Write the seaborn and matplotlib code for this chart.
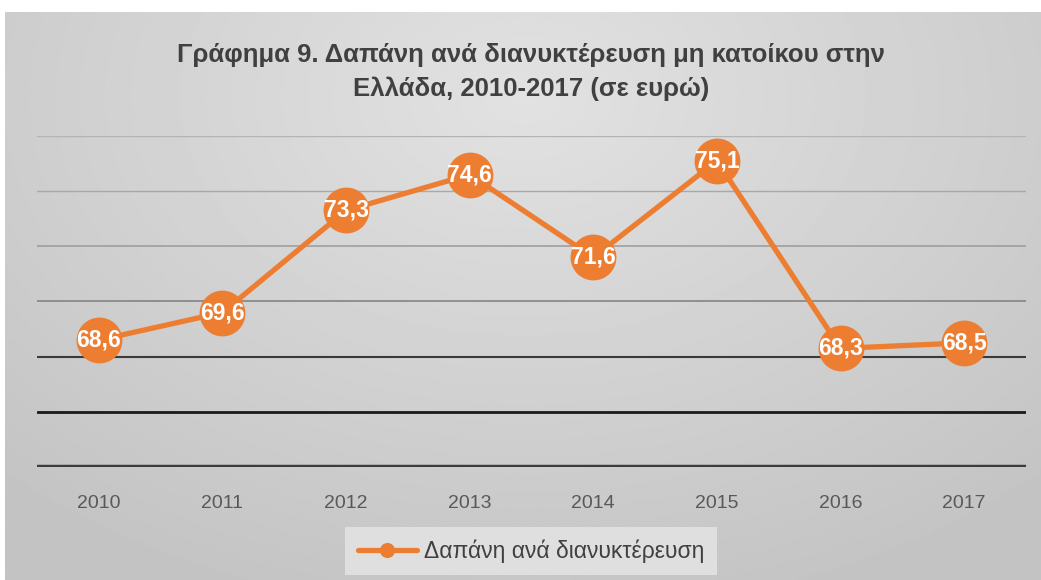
import numpy as np
import matplotlib
matplotlib.use("Agg")
import matplotlib.pyplot as plt
import seaborn as sns

# data
years = [2010, 2011, 2012, 2013, 2014, 2015, 2016, 2017]
spend = [68.6, 69.6, 73.3, 74.6, 71.6, 75.1, 68.3, 68.5]
value_labels = ["68,6", "69,6", "73,3", "74,6", "71,6", "75,1", "68,3", "68,5"]
grid_levels = [64, 66, 68, 70, 72, 74, 76]

title = "Γράφημα 9. Δαπάνη ανά διανυκτέρευση μη κατοίκου στην\nΕλλάδα, 2010-2017 (σε ευρώ)"
series_name = "Δαπάνη ανά διανυκτέρευση"

sns.set_theme(style="white")
plt.rcParams["font.family"] = ["Liberation Sans", "DejaVu Sans"]

orange = "#ED7D31"
fig = plt.figure(figsize=(10.41, 5.80), dpi=100, facecolor="white")

# grey radial gradient background of the chart area
bg = fig.add_axes([5 / 1041, 0, 1 - 5 / 1041, 1 - 12 / 580])
yy, xx = np.mgrid[0:1:300j, 0:1:600j]
r = np.sqrt(((xx - 0.5) / 0.75) ** 2 + ((yy - 0.15) / 0.95) ** 2)
shade = 0.885 - 0.12 * np.clip(r, 0, 1)
bg.imshow(shade, cmap="gray", vmin=0, vmax=1, aspect="auto", extent=[0, 1, 1, 0])
bg.set_axis_off()

ax = fig.add_axes([37 / 1041, 1 - 467 / 580, (1026 - 37) / 1041, (467 - 136) / 580])
ax.set_facecolor("none")

# gridlines, darker towards the bottom like the original
grid_colors = ["#3c3c3c", "#1a1a1a", "#3a3a3a", "#8a8a8a", "#9a9a9a", "#a8a8a8", "#b4b4b4"]
grid_widths = [3.2, 2.0, 1.5, 1.3, 1.1, 1.0, 1.0]
for lvl, c, w in zip(grid_levels, grid_colors, grid_widths):
    ax.axhline(lvl, color=c, lw=w, zorder=1)

sns.lineplot(x=years, y=spend, ax=ax, color=orange, lw=3.8, marker="o",
             markersize=33, markeredgewidth=0, label=series_name, zorder=3)

for x, y, t in zip(years, spend, value_labels):
    ax.text(x, y, t, ha="center", va="center", color="white", fontsize=16.5,
            fontweight="bold", zorder=4)

ax.set_xlim(2009.5, 2017.5)
ax.set_ylim(64, 76)
ax.set_xticks(years)
ax.set_xticklabels([str(y) for y in years])
ax.set_yticks([])
ax.set_xlabel("")
ax.set_ylabel("")
ax.tick_params(axis="x", length=0, pad=20, labelsize=14, labelcolor="#595959")
for s in ax.spines.values():
    s.set_visible(False)

leg = ax.legend(loc="center", bbox_to_anchor=(531 / 1041, 1 - 551 / 580),
                bbox_transform=fig.transFigure, fontsize=16.5, markerscale=0.33,
                handlelength=2.6, handletextpad=0.3, borderpad=0.55,
                frameon=True, fancybox=False, labelcolor="#404040")
leg.get_frame().set_facecolor("#e2e2e2")
leg.get_frame().set_edgecolor("none")
leg.get_frame().set_alpha(0.9)

fig.text(531 / 1041, 1 - 72 / 580, title, ha="center", va="center", fontsize=18.5,
         fontweight="bold", color="#404040", linespacing=1.45)

fig.savefig("out.png", dpi=100, facecolor="white")
